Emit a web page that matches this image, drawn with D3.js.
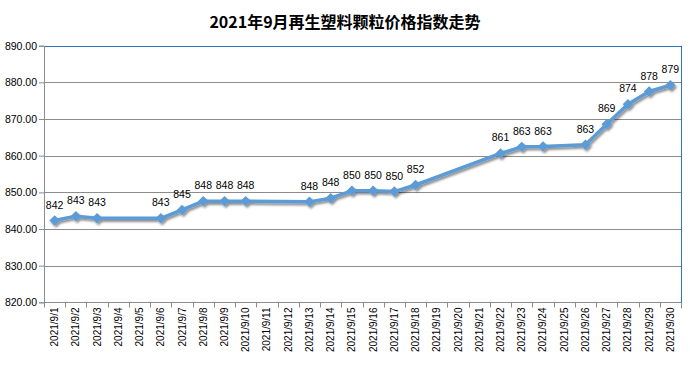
<!DOCTYPE html>
<html><head><meta charset="utf-8">
<script src="https://cdn.jsdelivr.net/npm/d3@7/dist/d3.min.js"></script>
<style>body{margin:0;background:#fff}svg{display:block}</style>
</head><body><svg id="c" width="690" height="365"></svg>
<script>
const categories = d3.range(1,31).map(d => "2021/9/" + d);
const values = [842.3,843.5,842.9,null,null,842.9,845.2,847.6,847.6,847.6,null,null,847.4,848.4,850.4,850.4,850.2,852.0,null,null,null,860.6,862.4,862.5,null,863.0,868.6,874.0,877.5,879.2];
const labels = ["842","843","843",null,null,"843","845","848","848","848",null,null,"848","848","850","850","850","852",null,null,null,"861","863","863",null,"863","869","874","878","879"];
const yTicks = [820,830,840,850,860,870,880,890];
const title = "2021年9月再生塑料颗粒价格指数走势";

const svg = d3.select("#c");
const L = 44, R = 681, T = 45.7, B = 302.3;
const x = d3.scaleBand().domain(categories).range([L, R]);
const y = d3.scaleLinear().domain([820, 890]).range([B, T]);

const defs = svg.append("defs");
const f = defs.append("filter").attr("id","sh").attr("x","-20%").attr("y","-20%").attr("width","140%").attr("height","140%");
f.append("feDropShadow").attr("dx",1.5).attr("dy",2).attr("stdDeviation",1.3).attr("flood-color","#000").attr("flood-opacity",0.45);

svg.append("text").attr("x",345).attr("y",28).attr("text-anchor","middle")
  .attr("font-family","'Noto Sans CJK SC', sans-serif").attr("font-weight","bold").attr("font-size",16)
  .attr("fill","#000").text(title);

// gridlines
svg.append("g").selectAll("line").data(yTicks).join("line")
  .attr("x1",L).attr("x2",R).attr("y1",d=>Math.round(y(d))+0.5).attr("y2",d=>Math.round(y(d))+0.5)
  .attr("stroke",d=>d===890?"#2E75C6":"#8c8c8c").attr("stroke-width",1);
// right edge
svg.append("line").attr("x1",R+0.5).attr("x2",R+0.5).attr("y1",T).attr("y2",B+6).attr("stroke","#2E75C6");

// y axis
const ya = svg.append("g").attr("transform",`translate(${L},0)`)
  .call(d3.axisLeft(y).tickValues(yTicks).tickFormat(d3.format(".2f")).tickSize(5).tickPadding(2));
ya.select(".domain").attr("stroke","#8c8c8c");
ya.selectAll(".tick line").attr("stroke","#8c8c8c");
ya.selectAll("text").attr("font-family","'Liberation Sans', Arial, sans-serif").attr("font-size",10.5).attr("fill","#000");

// x axis
const xa = svg.append("g").attr("transform",`translate(0,${Math.round(B)+0.5})`);
xa.append("line").attr("x1",L).attr("x2",R).attr("stroke","#8c8c8c");
const bounds = categories.map(c => x(c)).concat([R]);
xa.selectAll("line.tk").data(bounds).join("line").attr("class","tk")
  .attr("x1",d=>Math.round(d)+0.5).attr("x2",d=>Math.round(d)+0.5).attr("y1",0).attr("y2",5).attr("stroke","#8c8c8c");
xa.selectAll("text").data(categories).join("text")
  .attr("transform",d=>`translate(${x(d)+x.bandwidth()/2+3.5},5) rotate(-90)`)
  .attr("text-anchor","end").attr("font-family","'Liberation Sans', Arial, sans-serif").attr("font-size",10)
  .attr("fill","#000").text(d=>d);

const pts = categories.map((c,i)=>({c, v:values[i], l:labels[i]})).filter(d=>d.v!==null);
const g = svg.append("g").attr("filter","url(#sh)");
g.append("path").datum(pts)
  .attr("d", d3.line().x(d=>x(d.c)+x.bandwidth()/2).y(d=>y(d.v)))
  .attr("fill","none").attr("stroke","#5B9BD5").attr("stroke-width",3.5).attr("stroke-linejoin","round");
g.selectAll("path.m").data(pts).join("path").attr("class","m")
  .attr("d", d3.symbol(d3.symbolDiamond2 || d3.symbolDiamond, 70))
  .attr("transform", d=>`translate(${x(d.c)+x.bandwidth()/2},${y(d.v)})`)
  .attr("fill","#5B9BD5");

svg.append("g").selectAll("text").data(pts).join("text")
  .attr("x",d=>x(d.c)+x.bandwidth()/2).attr("y",d=>y(d.v)-12)
  .attr("text-anchor","middle").attr("font-family","'Liberation Sans', Arial, sans-serif").attr("font-size",10.5)
  .attr("fill","#000").text(d=>d.l);
</script></body></html>
